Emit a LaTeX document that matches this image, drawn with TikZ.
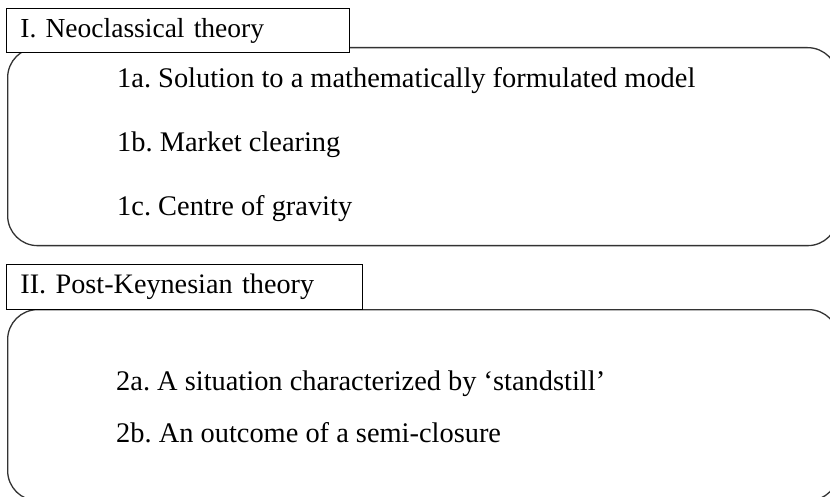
\documentclass[tikz,border=0pt]{standalone}
\usepackage{fontspec}
\setmainfont{Liberation Serif}
\frenchspacing
\begin{document}
\begin{tikzpicture}[x=1pt,y=-1pt,
  groupbox/.style={draw=black!80, line width=1.3pt, rounded corners=30pt, anchor=north west, inner sep=0pt},
  headbox/.style={draw=black, line width=0.9pt, fill=white, anchor=north west, inner xsep=14pt, inner ysep=0pt, align=left, font=\fontsize{28.2}{32}\selectfont},
  item/.style={anchor=base west, inner sep=0pt, font=\fontsize{28.4}{32}\selectfont}]
\useasboundingbox (0,0) rectangle (830,497);
\clip (0,0) rectangle (830,497);
\node[groupbox, minimum width=830pt, minimum height=198pt] (g1) at (7,47) {};
\node[headbox, minimum width=343pt, minimum height=44pt, text width=315pt, font=\fontsize{27.5}{32}\selectfont] (h1) at (6,8) {I. Neoclassical theory};
\node[item] (t1a) at (117,88) {1a. Solution to a mathematically formulated model};
\node[item] (t1b) at (117,152) {1b. Market clearing};
\node[item] (t1c) at (117,215) {1c. Centre of gravity};
\node[groupbox, minimum width=831pt, minimum height=191pt] (g2) at (7,309) {};
\node[headbox, minimum width=356pt, minimum height=45pt, text width=328pt] (h2) at (6,264) {II. Post-Keynesian theory};
\node[item] (t2a) at (116,390) {2a. A situation characterized by `standstill'};
\node[item] (t2b) at (116,442) {2b. An outcome of a semi-closure};
\end{tikzpicture}
\end{document}
